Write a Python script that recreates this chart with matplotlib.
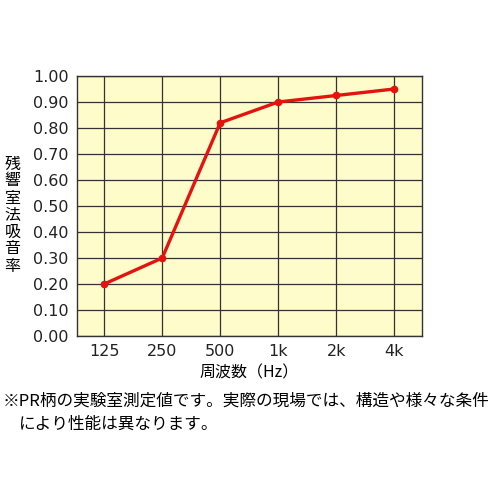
import matplotlib
matplotlib.use("Agg")
import matplotlib.pyplot as plt

plt.rcParams['font.family'] = ['Noto Sans CJK JP', 'DejaVu Sans']

# 周波数と吸音率
freq_labels = ['125', '250', '500', '1k', '2k', '4k']
absorption = [0.20, 0.30, 0.82, 0.90, 0.925, 0.95]
y_ticks = [0.0, 0.1, 0.2, 0.3, 0.4, 0.5, 0.6, 0.7, 0.8, 0.9, 1.0]

fig = plt.figure(figsize=(5, 5), dpi=100)
ax = fig.add_axes([0.154, 0.328, 0.69, 0.52])
ax.set_facecolor('#fffccc')

x = list(range(len(freq_labels)))
ax.plot(x, absorption, color='#e3140e', linewidth=2.4, marker='o',
        markersize=4.5, zorder=3)

ax.set_xlim(-0.47, 5.48)
ax.set_ylim(0, 1.0)
ax.set_xticks(x)
ax.set_xticklabels(freq_labels, fontsize=11.5, family='DejaVu Sans')
ax.set_yticks(y_ticks)
ax.set_yticklabels([f'{v:.2f}' for v in y_ticks], fontsize=11.5,
                   family='DejaVu Sans')
ax.tick_params(length=0, pad=6, colors='#222222')
ax.grid(True, color='#333333', linewidth=0.9)
ax.set_axisbelow(True)
for s in ax.spines.values():
    s.set_color('#333333')
    s.set_linewidth(1.0)

ax.set_xlabel('周波数（Hz）', fontsize=11.5, labelpad=4)
fig.text(0.025, 0.57, '\n'.join('残響室法吸音率'), fontsize=11.5,
         ha='center', va='center', linespacing=1.0)

fig.text(0.006, 0.197, '※PR柄の実験室測定値です。実際の現場では、構造や様々な条件',
         fontsize=12, ha='left', va='center')
fig.text(0.038, 0.152, 'により性能は異なります。',
         fontsize=12, ha='left', va='center')

fig.savefig('out.png', dpi=100)
